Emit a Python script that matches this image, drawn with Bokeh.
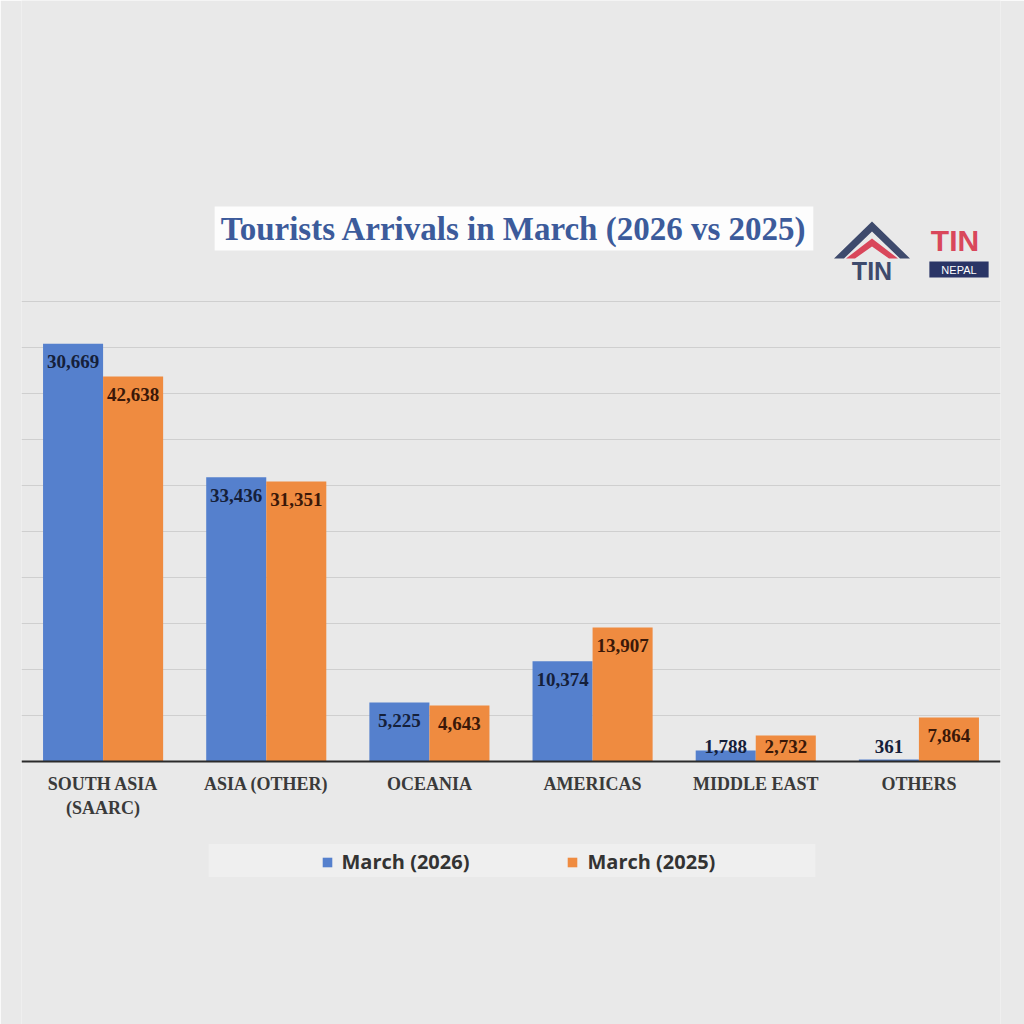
from bokeh.plotting import figure
from bokeh.models import (ColumnDataSource, FactorRange, Range1d, Label, Legend,
                          LegendItem, FixedTicker, Grid, PolyAnnotation)
from bokeh.transform import dodge
from bokeh.core.properties import value
from bokeh.embed import file_html
from bokeh.resources import INLINE

# ---------------- data ----------------
categories = ["SOUTH ASIA\n(SAARC)", "ASIA (OTHER)", "OCEANIA", "AMERICAS", "MIDDLE EAST", "OTHERS"]
arrivals_2026 = [45400, 30900, 6400, 10900, 1200, 220]
arrivals_2025 = [41850, 30430, 6090, 14570, 2830, 4780]
labels_2026 = ["30,669", "33,436", "5,225", "10,374", "1,788", "361"]
labels_2025 = ["42,638", "31,351", "4,643", "13,907", "2,732", "7,864"]
series_names = ["March (2026)", "March (2025)"]
grid_values = [5000, 10000, 15000, 20000, 25000, 30000, 35000, 40000, 45000, 50000]

BLUE = "#5580cd"
ORANGE = "#ef8b40"
BG = "#e9e9e9"
LABEL_MIN = 3600

# layout constants (pixels)
FL = 21.5          # frame left
FB = 1024          # frame bottom (canvas y)
BASE = 761         # canvas y of the zero line
PX_PER_UNIT = 46 / 5000.0

src = ColumnDataSource(dict(
    cat=categories,
    v26=arrivals_2026,
    v25=arrivals_2025,
    l26=labels_2026,
    l25=labels_2025,
    y26=[max(v, LABEL_MIN) for v in arrivals_2026],
    y25=[max(v, LABEL_MIN) for v in arrivals_2025],
))

y_start = -(FB - BASE) / PX_PER_UNIT
y_end = BASE / PX_PER_UNIT

p = figure(width=1024, height=1024, output_backend="svg", toolbar_location=None,
           x_range=FactorRange(factors=categories, range_padding=0),
           y_range=Range1d(y_start, y_end), y_axis_location=None)
p.min_border_left = 21
p.min_border_right = 24
p.min_border_top = 0
p.min_border_bottom = 0
p.background_fill_color = BG
p.border_fill_color = BG
p.outline_line_color = None

p.xgrid.grid_line_color = None
if len(p.ygrid) == 0:
    p.add_layout(Grid(dimension=1, ticker=FixedTicker(ticks=grid_values)))
for g in p.ygrid:
    g.ticker = FixedTicker(ticks=grid_values)
    g.grid_line_color = "#cfcfcf"
    g.grid_line_width = 1

ax = p.xaxis[0]
ax.fixed_location = 0
ax.axis_line_color = "#2b2b2b"
ax.axis_line_width = 2
ax.major_tick_line_color = None
ax.minor_tick_line_color = None
ax.major_label_text_font = "Liberation Serif"
ax.major_label_text_font_style = "bold"
ax.major_label_text_font_size = "18px"
ax.major_label_text_color = "#3a3a3a"
ax.major_label_standoff = 6

r26 = p.vbar(x=dodge("cat", -0.184, range=p.x_range), top="v26", width=0.368,
             source=src, fill_color=BLUE, line_color=None)
r25 = p.vbar(x=dodge("cat", 0.184, range=p.x_range), top="v25", width=0.368,
             source=src, fill_color=ORANGE, line_color=None)

p.text(x=dodge("cat", -0.184, range=p.x_range), y="y26", text="l26", source=src,
       text_font=value("Liberation Serif"), text_font_style="bold", text_font_size="19px",
       text_align="center", text_baseline="middle", y_offset=18, text_color="#15203a")
p.text(x=dodge("cat", 0.184, range=p.x_range), y="y25", text="l25", source=src,
       text_font=value("Liberation Serif"), text_font_style="bold", text_font_size="19px",
       text_align="center", text_baseline="middle", y_offset=18, text_color="#3a1808")


def sx(x):
    return x - FL


def sy(y):
    return FB - y


# legend band
band = Label(x=sx(512), y=sy(860), x_units="screen", y_units="screen", text=" ",
             text_font_size="10px", text_align="center", text_baseline="middle",
             background_fill_color="#efefef", background_fill_alpha=1.0,
             padding=dict(left=302, right=302, top=11, bottom=11))
p.add_layout(band)

legend = Legend(items=[LegendItem(label=series_names[0], renderers=[r26]),
                       LegendItem(label=series_names[1], renderers=[r25])],
                orientation="horizontal", location=(sx(321), sy(875)), padding=6, margin=0,
                spacing=97, glyph_width=12, glyph_height=12, label_standoff=9,
                label_text_font="Open Sans", label_text_font_style="bold",
                label_text_font_size="20px", label_text_color="#333333",
                background_fill_alpha=0, border_line_color=None)
p.add_layout(legend)

# title
title = Label(x=sx(514), y=sy(228), x_units="screen", y_units="screen",
              text="Tourists Arrivals in March (2026 vs 2025)",
              text_font="Liberation Serif", text_font_style="bold", text_font_size="33px",
              text_color="#3c5b9b", text_align="center", text_baseline="middle",
              background_fill_color="white", background_fill_alpha=0.9,
              padding=dict(left=6, right=6, top=4, bottom=4))
p.add_layout(title)

# logo
roof_x = [834, 872, 910, 900, 872, 844]
roof_y = [258, 221, 258, 258, 231, 258]
p.add_layout(PolyAnnotation(xs=[sx(v) for v in roof_x], ys=[sy(v) for v in roof_y],
                            xs_units="screen", ys_units="screen",
                            fill_color="#3e4a6c", fill_alpha=1, line_color=None))
stripe_x = [846, 872, 898, 889, 872, 855]
stripe_y = [258, 238, 258, 258, 246, 258]
p.add_layout(PolyAnnotation(xs=[sx(v) for v in stripe_x], ys=[sy(v) for v in stripe_y],
                            xs_units="screen", ys_units="screen",
                            fill_color="#d9475b", fill_alpha=1, line_color=None))
p.add_layout(Label(x=sx(872), y=sy(270), x_units="screen", y_units="screen", text="TIN",
                   text_font="Liberation Sans", text_font_style="bold", text_font_size="25px",
                   text_color="#3e4a6c", text_align="center", text_baseline="middle"))
p.add_layout(Label(x=sx(955), y=sy(240), x_units="screen", y_units="screen", text="TIN",
                   text_font="Liberation Sans", text_font_style="bold", text_font_size="30px",
                   text_color="#d9475b", text_align="center", text_baseline="middle"))
p.add_layout(Label(x=sx(959), y=sy(269), x_units="screen", y_units="screen", text="NEPAL",
                   text_font="Liberation Sans", text_font_size="11px", text_color="white",
                   text_align="center", text_baseline="middle",
                   background_fill_color="#2a3566", background_fill_alpha=1,
                   padding=dict(left=12, right=12, top=2, bottom=2)))

open("out.html", "w").write(file_html(p, INLINE))
